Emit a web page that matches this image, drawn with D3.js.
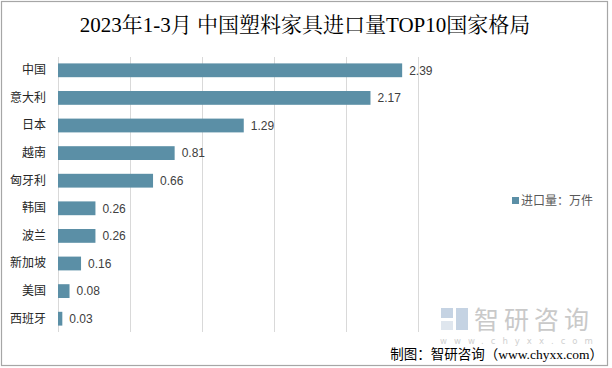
<!DOCTYPE html>
<html><head><meta charset="utf-8">
<script src="https://cdn.jsdelivr.net/npm/d3@7"></script>
<style>body{margin:0;background:#fff}svg{display:block}</style>
</head><body>
<script>
const categories = ["中国","意大利","日本","越南","匈牙利","韩国","波兰","新加坡","美国","西班牙"];
const values = [2.39,2.17,1.29,0.81,0.66,0.26,0.26,0.16,0.08,0.03];
const tickValues = [0,0.5,1,1.5,2,2.5];
const title = "2023年1-3月  中国塑料家具进口量TOP10国家格局";
const legendLabel = "进口量：万件";
const source = "制图：智研咨询（www.chyxx.com）";

const W=612,H=368;
const svg=d3.select("body").append("svg").attr("width",W).attr("height",H);
svg.append("rect").attr("x",1.5).attr("y",1.5).attr("width",606).attr("height",364)
  .attr("fill","#fff").attr("stroke","#a6a6a6").attr("stroke-width",1.2);

const x=d3.scaleLinear().domain([0,2.5]).range([58,418]);
const y=d3.scaleBand().domain(categories).range([56.5,332.5]).paddingInner(0.5).paddingOuter(0.25);

// gridlines
svg.append("g").selectAll("line").data(tickValues).join("line")
  .attr("x1",d=>Math.round(x(d))+0.5).attr("x2",d=>Math.round(x(d))+0.5)
  .attr("y1",57).attr("y2",332).attr("stroke","#d9d9d9").attr("stroke-width",1);

// watermark
const wm=svg.append("g");
wm.append("rect").attr("x",441).attr("y",308).attr("width",12).attr("height",10).attr("fill","#c5d3e3");
wm.append("rect").attr("x",456).attr("y",308).attr("width",12).attr("height",22).attr("fill","#c5d3e3");
wm.append("rect").attr("x",441).attr("y",321).attr("width",12).attr("height",9).attr("fill","#dfe6ee");
wm.append("text").attr("x",474).attr("y",329).attr("font-size",25).attr("letter-spacing",5)
  .attr("font-family","Noto Sans CJK SC").attr("fill","#c9c9c9").text("智研咨询");
wm.append("text").attr("x",440).attr("y",344).attr("font-size",8.5).attr("letter-spacing",7)
  .attr("font-family","DejaVu Sans").attr("fill","#d0d0d0").text("www.chyxx.com");

// bars
svg.append("g").selectAll("rect").data(values).join("rect")
  .attr("x",x(0)).attr("y",(d,i)=>y(categories[i]))
  .attr("width",d=>x(d)-x(0)).attr("height",y.bandwidth()).attr("fill","#5b8fa6");

// value labels
svg.append("g").selectAll("text").data(values).join("text")
  .attr("x",d=>x(d)+7).attr("y",(d,i)=>y(categories[i])+y.bandwidth()/2)
  .attr("dy","0.35em").attr("font-size",12).attr("fill","#404040")
  .attr("font-family","Liberation Sans, DejaVu Sans").text(d=>d.toFixed(2));

// category axis
const ax=d3.axisLeft(y).tickSize(0).tickPadding(12);
const g=svg.append("g").attr("transform",`translate(${x(0)},0)`).call(ax);
g.select(".domain").remove();
g.selectAll("text").attr("font-size",12).attr("fill","#262626").attr("font-family","Noto Sans CJK SC");

// title
svg.append("text").attr("x",305).attr("y",32).attr("text-anchor","middle")
  .attr("font-size",21).attr("font-family","Liberation Serif, Noto Serif CJK SC, Noto Sans CJK SC")
  .attr("fill","#000").text(title);

// legend
svg.append("rect").attr("x",512).attr("y",197).attr("width",7).attr("height",7).attr("fill","#5b8fa6");
svg.append("text").attr("x",521).attr("y",201).attr("dy","0.35em").attr("font-size",12)
  .attr("font-family","Noto Sans CJK SC").attr("fill","#595959").text(legendLabel);

// source
svg.append("text").attr("x",603).attr("y",359).attr("text-anchor","end").attr("font-size",13.5)
  .attr("font-family","Liberation Serif, Noto Sans CJK SC").attr("fill","#000").text(source);
</script>
</body></html>
